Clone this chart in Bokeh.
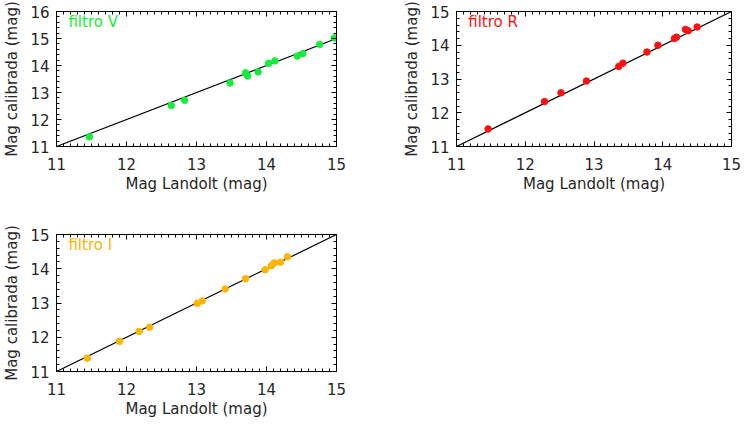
from bokeh.plotting import figure
from bokeh.layouts import column, row
from bokeh.models import Range1d, LinearAxis, SingleIntervalTicker, Label, CustomLabelingPolicy
from bokeh.embed import file_html
from bokeh.resources import INLINE

# Landolt catalogue magnitudes vs calibrated instrumental magnitudes
v_landolt = [11.47, 12.64, 12.83, 13.48, 13.70, 13.73, 13.88, 14.03, 14.12, 14.44, 14.52, 14.76, 14.97]
v_calib = [11.36, 12.52, 12.71, 13.35, 13.73, 13.61, 13.76, 14.08, 14.17, 14.35, 14.44, 14.78, 15.02]

r_landolt = [11.46, 12.28, 12.52, 12.89, 13.36, 13.42, 13.77, 13.93, 14.17, 14.20, 14.33, 14.37, 14.50]
r_calib = [11.52, 12.33, 12.59, 12.94, 13.37, 13.47, 13.80, 14.00, 14.20, 14.24, 14.47, 14.43, 14.54]

i_landolt = [11.44, 11.90, 12.18, 12.33, 13.01, 13.08, 13.41, 13.70, 13.98, 14.07, 14.11, 14.20, 14.30]
i_calib = [11.39, 11.88, 12.17, 12.29, 12.99, 13.06, 13.41, 13.71, 13.97, 14.09, 14.17, 14.19, 14.35]

# identity line (calibrated = Landolt)
ref_x = [11, 15]
ref_y = [11, 15]

FONT = "DejaVu Sans"
TXT = "#262626"

# drop every tick label (used for the tick-only box sides)
NO_LABELS = CustomLabelingPolicy(code="""
    for (const i of indices) indices.unset(i)
    return indices
""")


def style_axis(ax, minor, labels=True):
    ax.ticker = SingleIntervalTicker(interval=1, num_minor_ticks=minor)
    ax.axis_line_color = "black"
    ax.major_tick_line_color = "black"
    ax.minor_tick_line_color = "black"
    ax.major_tick_in = 5
    ax.major_tick_out = 0
    ax.minor_tick_in = 3
    ax.minor_tick_out = 0
    if labels:
        ax.major_label_text_font = FONT
        ax.major_label_text_font_size = "15px"
        ax.major_label_text_color = TXT
        ax.axis_label_text_font = FONT
        ax.axis_label_text_font_size = "15px"
        ax.axis_label_text_font_style = "normal"
        ax.axis_label_text_color = TXT
    else:
        ax.major_label_policy = NO_LABELS
        ax.major_label_standoff = 0


def panel(xs, ys, color, name, ymax, w, h, bl, br, bt, bb):
    p = figure(width=w, height=h, output_backend="svg", toolbar_location=None,
               x_range=Range1d(11, 15), y_range=Range1d(11, ymax),
               min_border_left=bl, min_border_right=br,
               min_border_top=bt, min_border_bottom=bb,
               x_axis_label="Mag Landolt (mag)", y_axis_label="Mag calibrada (mag)")
    p.grid.visible = False
    p.outline_line_color = "black"
    p.background_fill_color = "white"
    p.border_fill_color = "white"
    style_axis(p.xaxis[0], 10)
    style_axis(p.yaxis[0], 5)
    p.xaxis[0].major_label_standoff = 11
    p.xaxis[0].axis_label_standoff = 2
    p.yaxis[0].major_label_standoff = 7
    p.yaxis[0].axis_label_standoff = 6
    top = LinearAxis()
    right = LinearAxis()
    style_axis(top, 10, labels=False)
    style_axis(right, 5, labels=False)
    p.add_layout(top, "above")
    p.add_layout(right, "right")

    p.line(ref_x, ref_y, line_color="black", line_width=1.2)
    p.scatter(xs, ys, size=6.5, fill_color=color, line_color=color)

    # filter name in the upper-left corner
    px_per_unit = (h - bt - bb) / (ymax - 11)
    p.add_layout(Label(x=11.17, y=ymax - 10.5 / px_per_unit, text=name,
                       text_color=color, text_font=FONT, text_font_size="15px",
                       text_baseline="middle"))
    return p


pV = panel(v_landolt, v_calib, "#14ee3a", "filtro V", 16, 373, 210, 56, 37, 7, 64)
pR = panel(r_landolt, r_calib, "#ff1010", "filtro R", 15, 373, 210, 83, 11, 8, 64)
pI = panel(i_landolt, i_calib, "#ffb400", "filtro I", 15, 373, 215, 56, 37, 24, 54)

layout = column(row(pV, pR), row(pI))
open("out.html", "w").write(file_html(layout, INLINE))
